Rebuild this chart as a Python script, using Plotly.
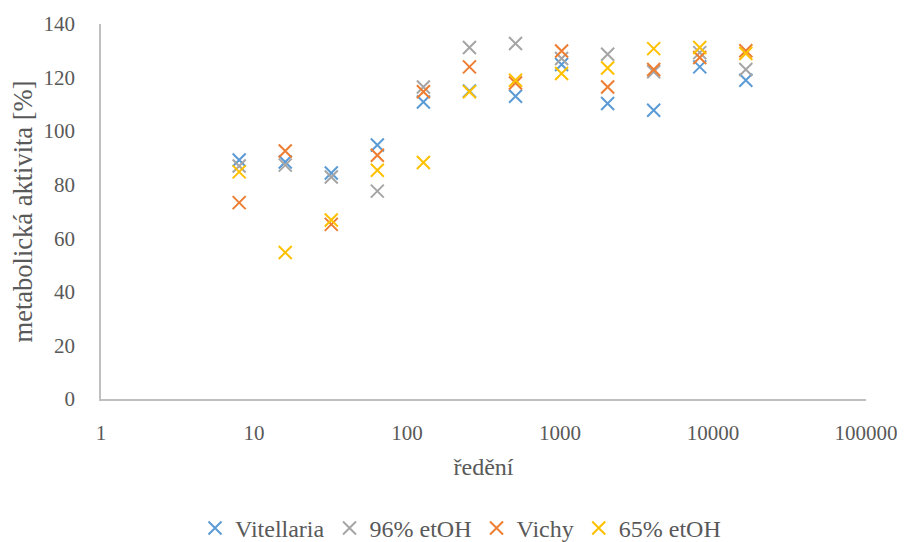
import plotly.graph_objects as go

dilution = [8, 16, 32, 64, 128, 256, 512, 1024, 2048, 4096, 8192, 16384]
vitellaria = [89.2, 88.5, 84.4, 94.8, 110.9, 115.0, 113.0, 124.9, 110.3, 107.8, 124.0, 119.0]
etoh96 = [87.0, 87.3, 82.9, 77.6, 116.5, 131.2, 132.7, 127.1, 128.7, 122.2, 129.3, 123.0]
vichy = [73.3, 92.6, 65.2, 91.0, 114.7, 124.0, 118.0, 129.9, 116.5, 123.0, 127.5, 130.0]
etoh65 = [84.8, 54.7, 66.8, 85.4, 88.3, 114.7, 119.0, 121.5, 123.6, 130.8, 131.2, 129.0]
x_ticks = [1, 10, 100, 1000, 10000, 100000]
x_ticklabels = ["1", "10", "100", "1000", "10000", "100000"]

series = [
    ("Vitellaria", vitellaria, "#5B9BD5"),
    ("96% etOH", etoh96, "#A5A5A5"),
    ("Vichy", vichy, "#ED7D31"),
    ("65% etOH", etoh65, "#FFC000"),
]

fig = go.Figure()
for name, vals, col in series:
    fig.add_trace(go.Scatter(
        x=dilution, y=vals, mode="markers", name=name,
        marker=dict(symbol="x-thin-open", size=13, line=dict(color=col, width=2), color=col),
    ))

font = "'Liberation Serif', 'Times New Roman', serif"
fig.update_layout(
    width=905, height=542,
    margin=dict(l=93, r=47, t=16, b=151, autoexpand=False),
    paper_bgcolor="white", plot_bgcolor="white",
    font=dict(family=font, color="#595959", size=21),
    showlegend=True,
    legend=dict(orientation="h", x=0.5, xanchor="center", xref="container",
                y=0.04, yanchor="middle", yref="container",
                font=dict(family=font, size=24, color="#595959"), itemwidth=30, tracegroupgap=0),
    xaxis=dict(
        type="log", range=[0, 5], showgrid=False, zeroline=False, automargin=False,
        showline=True, linecolor="#BFBFBF", linewidth=1.5,
        tickvals=x_ticks, ticktext=x_ticklabels,
        ticks="", tickfont=dict(family=font, size=21), ticklabelstandoff=14,
        title=dict(text="ředění", font=dict(family=font, size=24), standoff=14),
    ),
    yaxis=dict(
        range=[0, 140], dtick=20, showgrid=False, zeroline=False, automargin=False,
        showline=True, linecolor="#BFBFBF", linewidth=1.5,
        ticks="", tickfont=dict(family=font, size=21), ticklabelstandoff=20,
        title=dict(text="metabolická aktivita [%]", font=dict(family=font, size=26.5), standoff=9),
    ),
)

fig.write_html("out.html")
